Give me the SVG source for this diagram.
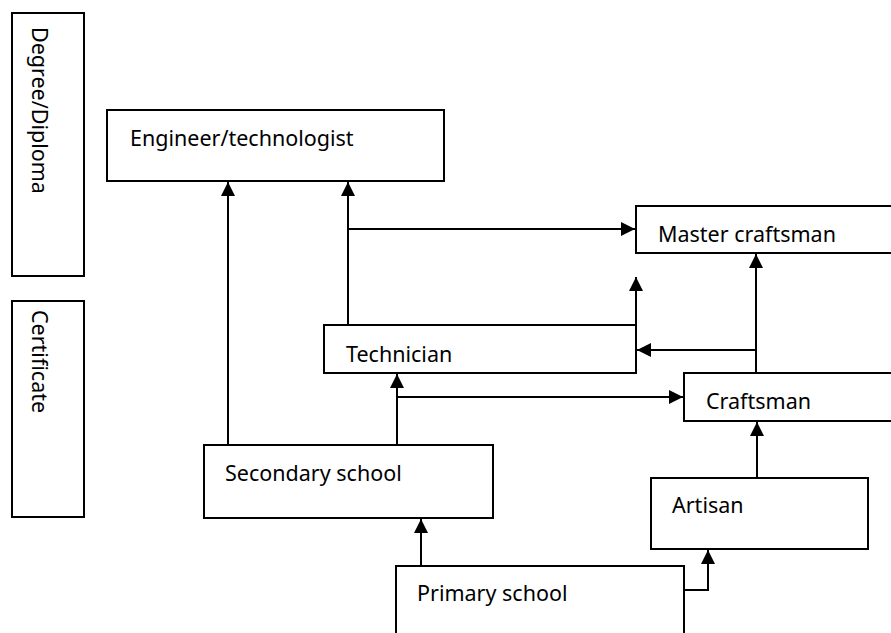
<svg xmlns="http://www.w3.org/2000/svg" width="891" height="633" viewBox="0 0 891 633">
<style>
.box{fill:#fff;stroke:#000;stroke-width:2}
.lbl{font-family:"Noto Sans","Open Sans",sans-serif;font-size:21.5px;fill:#000}
.cn{fill:none;stroke:#000;stroke-width:2}
</style>
<defs>
<marker id="ah" markerUnits="userSpaceOnUse" markerWidth="16" markerHeight="16" viewBox="0 0 16 16" refX="15" refY="8" orient="auto">
<path d="M1,1 L15,8 L1,15 Z" fill="#000"/>
</marker>
</defs>
<rect width="891" height="633" fill="#fff"/>
<g id="degree">
<rect class="box" x="12" y="13" width="72" height="263"/>
<text class="lbl" transform="translate(32,27) rotate(90)">Degree/Diploma</text>
</g>
<g id="certificate">
<rect class="box" x="12" y="301" width="72" height="216"/>
<text class="lbl" transform="translate(32,310) rotate(90)">Certificate</text>
</g>
<g id="connectors">
<path class="cn" d="M228,445 V182" marker-end="url(#ah)"/>
<path class="cn" d="M348,325 V182" marker-end="url(#ah)"/>
<path class="cn" d="M348,229 H635" marker-end="url(#ah)"/>
<path class="cn" d="M636,325 V277" marker-end="url(#ah)"/>
<path class="cn" d="M756,373 V254" marker-end="url(#ah)"/>
<path class="cn" d="M756,350 H637" marker-end="url(#ah)"/>
<path class="cn" d="M397,445 V374" marker-end="url(#ah)"/>
<path class="cn" d="M397,397 H683" marker-end="url(#ah)"/>
<path class="cn" d="M421,566 V519" marker-end="url(#ah)"/>
<path class="cn" d="M684,590 H708 V550" marker-end="url(#ah)"/>
<path class="cn" d="M757,478 V422" marker-end="url(#ah)"/>
</g>
<g id="engineer">
<rect class="box" x="107" y="110" width="337" height="71"/>
<text class="lbl" x="130" y="146">Engineer/technologist</text>
</g>
<g id="master">
<rect class="box" x="636" y="206" width="260" height="47"/>
<text class="lbl" x="658" y="242">Master craftsman</text>
</g>
<g id="technician">
<rect class="box" x="324" y="325" width="312" height="48"/>
<text class="lbl" x="346" y="362">Technician</text>
</g>
<g id="craftsman">
<rect class="box" x="684" y="373" width="212" height="48"/>
<text class="lbl" x="706" y="409">Craftsman</text>
</g>
<g id="secondary">
<rect class="box" x="204" y="445" width="289" height="73"/>
<text class="lbl" x="225" y="481">Secondary school</text>
</g>
<g id="artisan">
<rect class="box" x="651" y="478" width="217" height="71"/>
<text class="lbl" x="672" y="513">Artisan</text>
</g>
<g id="primary">
<path class="box" d="M396,640 V566 H684 V640"/>
<text class="lbl" x="417" y="601">Primary school</text>
</g>
</svg>
